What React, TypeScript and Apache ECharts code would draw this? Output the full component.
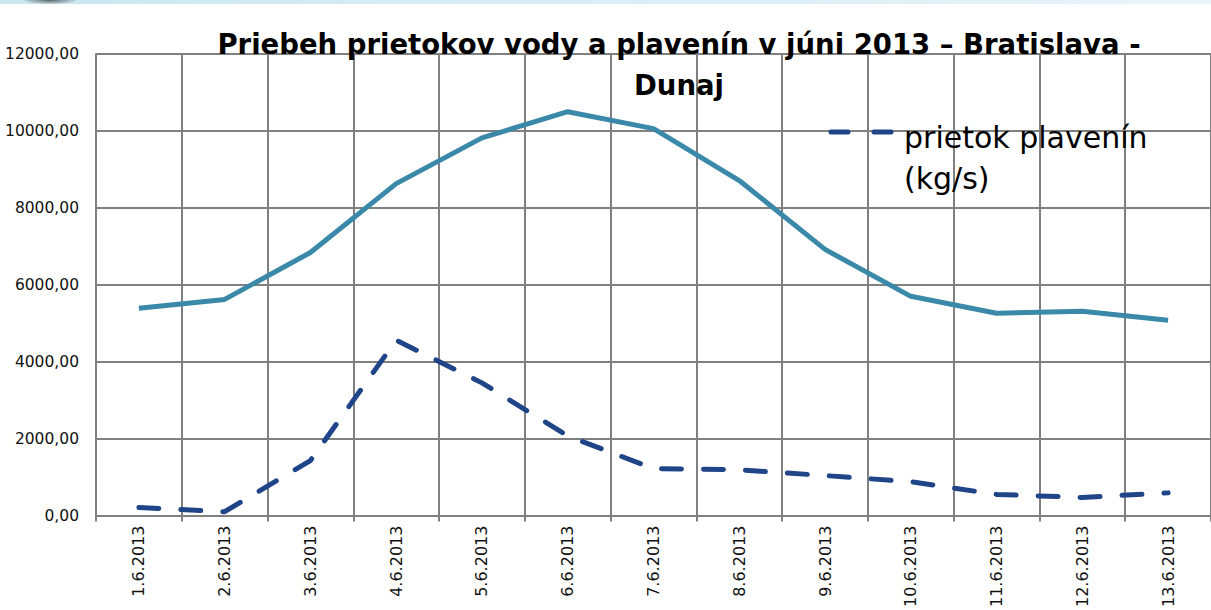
import React, { useEffect, useRef } from "react";
import * as echarts from "echarts";

const categories = [
  "1.6.2013", "2.6.2013", "3.6.2013", "4.6.2013", "5.6.2013", "6.6.2013", "7.6.2013",
  "8.6.2013", "9.6.2013", "10.6.2013", "11.6.2013", "12.6.2013", "13.6.2013",
];
const waterFlow = [5390, 5620, 6840, 8630, 9820, 10500, 10060, 8710, 6920, 5700, 5260, 5310, 5080];
const sedimentFlow = [210, 100, 1430, 4560, 3450, 2070, 1220, 1190, 1040, 880, 550, 470, 590];
const titleText = "Priebeh prietokov vody a plavenín v júni 2013 – Bratislava -\nDunaj";
const waterName = "prietok vody (m3/s)";
const sedimentName = "prietok plavenín (kg/s)";

const SEDIMENT_COLOR = "#1f4488";

export default function App() {
  const ref = useRef<HTMLDivElement>(null);
  useEffect(() => {
    if (!ref.current) return;
    const chart = echarts.init(ref.current, null, { renderer: "svg" });
    chart.setOption({
      animation: false,
      backgroundColor: "#ffffff",
      textStyle: { fontFamily: "'DejaVu Sans', sans-serif" },
      title: {
        text: titleText,
        left: 674,
        top: 18,
        textAlign: "center",
        textStyle: {
          fontFamily: "'DejaVu Sans', sans-serif",
          fontWeight: "bold",
          fontSize: 27.5,
          lineHeight: 41,
          color: "#000",
        },
      },
      graphic: [
        {
          type: "rect",
          shape: { x: 0, y: 0, width: 1211, height: 4 },
          style: {
            fill: new echarts.graphic.LinearGradient(0, 0, 1, 0, [
              { offset: 0, color: "#c9e8f2" },
              { offset: 1, color: "#e9f4fa" },
            ]),
          },
          silent: true,
        },
        {
          type: "ellipse",
          shape: { cx: 50, cy: 0, rx: 26, ry: 4 },
          style: {
            fill: new echarts.graphic.RadialGradient(0.5, 0.5, 0.5, [
              { offset: 0, color: "#555c5e" },
              { offset: 1, color: "rgba(120,130,135,0.2)" },
            ]),
          },
          silent: true,
        },
        {
          type: "line",
          shape: { x1: 831, y1: 132, x2: 848, y2: 132 },
          style: { stroke: SEDIMENT_COLOR, lineWidth: 5, lineCap: "round" },
          silent: true,
          z: 10,
        },
        {
          type: "line",
          shape: { x1: 874, y1: 132, x2: 891, y2: 132 },
          style: { stroke: SEDIMENT_COLOR, lineWidth: 5, lineCap: "round" },
          silent: true,
          z: 10,
        },
      ],
      legend: {
        data: [{ name: sedimentName, icon: "rect" }],
        left: 828,
        top: 112,
        itemWidth: 66,
        itemHeight: 5,
        itemGap: 9,
        itemStyle: { opacity: 0 },
        formatter: () => "prietok plavenín\n(kg/s)",
        textStyle: {
          fontFamily: "'DejaVu Sans', sans-serif",
          fontSize: 30,
          lineHeight: 41,
          color: "#000",
        },
      },
      grid: { left: 96, top: 54, width: 1118, height: 463, containLabel: false },
      xAxis: {
        type: "category",
        data: categories,
        boundaryGap: true,
        axisLine: { show: true, lineStyle: { color: "#808080", width: 2 } },
        axisTick: { show: true, length: 6, lineStyle: { color: "#808080", width: 2 } },
        splitLine: { show: true, lineStyle: { color: "#808080", width: 2 } },
        axisLabel: { rotate: 90, margin: 10, fontSize: 16, color: "#111", interval: 0 },
      },
      yAxis: {
        type: "value",
        min: 0,
        max: 12000,
        interval: 2000,
        axisLine: { show: true, lineStyle: { color: "#808080", width: 2 } },
        axisTick: { show: false },
        splitLine: { show: true, lineStyle: { color: "#808080", width: 2 } },
        axisLabel: {
          margin: 17,
          fontSize: 15.5,
          color: "#111",
          formatter: (v: number) => v.toFixed(2).replace(".", ","),
        },
      },
      series: [
        {
          name: waterName,
          type: "line",
          data: waterFlow,
          symbol: "none",
          lineStyle: { color: "#3b89a9", width: 5 },
          itemStyle: { color: "#3b89a9" },
        },
        {
          name: sedimentName,
          type: "line",
          data: sedimentFlow,
          symbol: "none",
          lineStyle: { color: SEDIMENT_COLOR, width: 5, type: [20, 22], cap: "round" },
          itemStyle: { color: SEDIMENT_COLOR },
        },
      ],
    });
    return () => chart.dispose();
  }, []);
  return (
    <div
      ref={ref}
      style={{ position: "fixed", left: 0, top: 0, width: 1211, height: 610 }}
    />
  );
}
